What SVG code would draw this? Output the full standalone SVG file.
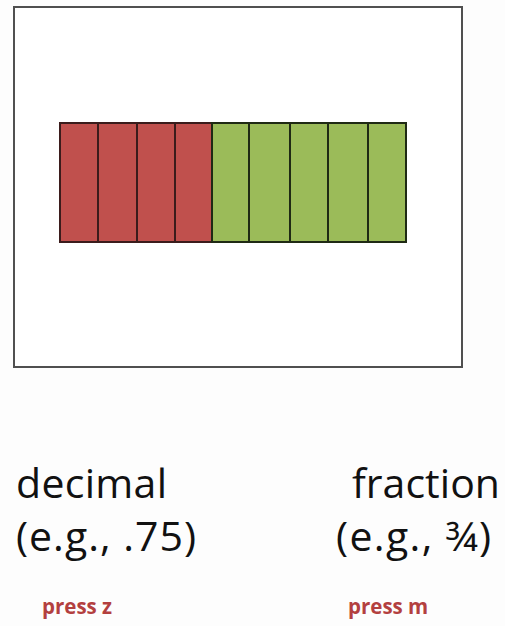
<svg xmlns="http://www.w3.org/2000/svg" width="505" height="626" viewBox="0 0 505 626">
<style>
.red{fill:#c0504d;stroke:#3b1c1c;stroke-width:2}
.green{fill:#9bbb59;stroke:#1f2a14;stroke-width:2}
.big{font-family:"Open Sans","Liberation Sans",sans-serif;font-size:41px;fill:#111}
.key{font-family:"Open Sans","Liberation Sans",sans-serif;font-size:20.5px;font-weight:bold;fill:#b3403f}
</style>
<rect width="505" height="626" fill="#fdfdfd"/>
<g id="frame"><rect x="14" y="7" width="448" height="360" fill="#fff" stroke="#505050" stroke-width="2"/></g>
<g id="bar">
<rect class="red" x="60" y="123" width="38" height="119"/>
<rect class="red" x="98" y="123" width="39" height="119"/>
<rect class="red" x="137" y="123" width="38" height="119"/>
<rect class="red" x="175" y="123" width="37" height="119"/>
<rect class="green" x="212" y="123" width="37" height="119"/>
<rect class="green" x="249" y="123" width="41" height="119"/>
<rect class="green" x="290" y="123" width="38" height="119"/>
<rect class="green" x="328" y="123" width="40" height="119"/>
<rect class="green" x="368" y="123" width="38" height="119"/>
</g>
<g id="decimal">
<text class="big" x="16" y="498" textLength="151" lengthAdjust="spacing">decimal</text>
<text class="big" x="16" y="551" textLength="180" lengthAdjust="spacing">(e.g., .75)</text>
<text class="key" x="42" y="614">press z</text>
</g>
<g id="fraction">
<text class="big" x="352" y="498" textLength="148" lengthAdjust="spacing">fraction</text>
<text class="big" x="336" y="551" textLength="155" lengthAdjust="spacing">(e.g., ¾)</text>
<text class="key" x="348" y="614">press m</text>
</g>
</svg>
